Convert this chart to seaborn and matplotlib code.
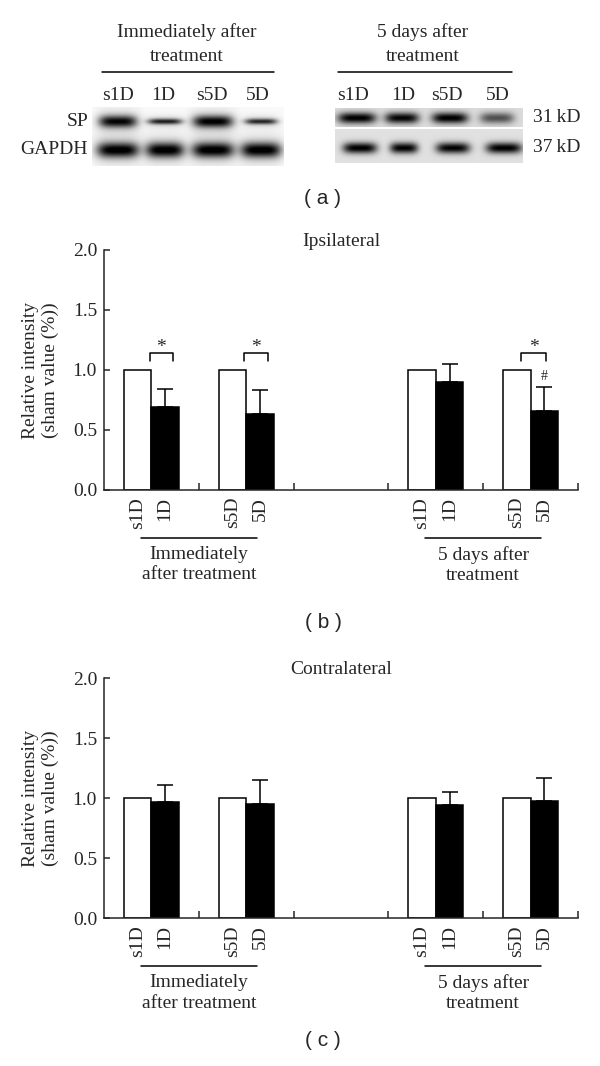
import numpy as np
import pandas as pd
import matplotlib
matplotlib.use('Agg')
import matplotlib.pyplot as plt
import matplotlib.transforms as mtransforms
import seaborn as sns

# ---------------- data ----------------
slots = ['imm_1D', 'imm_5D', 'gap', 'd5_1D', 'd5_5D']
bar_slots = ['imm_1D', 'imm_5D', 'd5_1D', 'd5_5D']
sham_labels = ['s1D', 's5D', 's1D', 's5D']
treat_labels = ['1D', '5D', '1D', '5D']
group_names = ['Immediately\nafter treatment', '5 days after\ntreatment']
yticks = [0.0, 0.5, 1.0, 1.5, 2.0]

ipsi_sham = [1.0, 1.0, 1.0, 1.0]
ipsi_treat = [0.69, 0.63, 0.90, 0.66]
ipsi_treat_sd = [0.15, 0.20, 0.15, 0.20]
ipsi_star_slots = ['imm_1D', 'imm_5D', 'd5_5D']
ipsi_hash_slots = ['d5_5D']

contra_sham = [1.0, 1.0, 1.0, 1.0]
contra_treat = [0.97, 0.95, 0.945, 0.98]
contra_treat_sd = [0.14, 0.20, 0.11, 0.19]

# western blot band densities (0 = blank, 1 = black)
blot_lanes = ['s1D', '1D', 's5D', '5D']
imm_sp_density = [0.85, 0.75, 0.88, 0.72]
imm_sp_thickness = [6.0, 2.8, 6.0, 2.8]
imm_gapdh_density = [0.92, 0.92, 0.92, 0.92]
d5_sp_density = [0.88, 0.85, 0.88, 0.55]
d5_gapdh_density = [0.9, 0.88, 0.88, 0.9]

# ---------------- style ----------------
sns.set_style('ticks')
plt.rcParams['font.family'] = ['Liberation Serif', 'DejaVu Serif']
plt.rcParams['axes.linewidth'] = 1.1
plt.rcParams['mathtext.default'] = 'regular'

W, H = 600, 1066
fig = plt.figure(figsize=(W / 100, H / 100), dpi=100)
FS = 14


def fig_rect(x0, y0, x1, y1):
    return [x0 / W, 1 - y1 / H, (x1 - x0) / W, (y1 - y0) / H]


# ---------------- panel (a): blots ----------------
ax_a = fig.add_axes([0, 1 - 210 / H, 1, 210 / H])


def blot_image(ax, x0, x1, y0, y1, bg, bands, halo=0.0):
    xs = np.arange(x0, x1, 0.5) + 0.25
    ys = np.arange(y0, y1, 0.5) + 0.25
    X, Y = np.meshgrid(xs, ys)
    img = np.full(X.shape, bg, dtype=float)
    for (xc, yc, hw, hh, d) in bands:
        px = np.exp(-np.abs((X - xc) / hw) ** 4)
        py = np.exp(-((Y - yc) / hh) ** 2)
        img += d * px * py
        if halo:
            img += halo * np.exp(-np.abs((X - xc) / (hw * 1.15)) ** 4) * np.exp(-((Y - yc) / (hh * 2.3)) ** 2)
    img = np.clip(img, 0, 1)
    ax.imshow(img, cmap='gray_r', vmin=0, vmax=1, extent=(x0, x1, y1, y0),
              interpolation='bilinear', aspect='auto')


left_centers = [118, 165, 213, 261]
left_sp_hw = [19, 17, 20, 16]
left_g_hw = [21, 19, 21, 20]
bands_left = []
for i in range(4):
    bands_left.append((left_centers[i], 121.5, left_sp_hw[i], imm_sp_thickness[i], imm_sp_density[i]))
    bands_left.append((left_centers[i], 150, left_g_hw[i], 7.5, imm_gapdh_density[i]))
blot_image(ax_a, 92, 284, 107, 166, 0.02, bands_left, halo=0.12)

r_sp_c = [357, 402, 450, 497]
r_g_c = [360, 404, 453, 504]
r_sp_hw = [19, 17, 18, 17]
r_g_hw = [17, 14, 17, 18]
blot_image(ax_a, 335, 523, 108, 127, 0.14,
           [(r_sp_c[i], 118, r_sp_hw[i], 5.5, d5_sp_density[i]) for i in range(4)])
blot_image(ax_a, 335, 523, 129, 163, 0.12,
           [(r_g_c[i], 148, r_g_hw[i], 5.5, d5_gapdh_density[i]) for i in range(4)])

BFS = 14
ax_a.text(187, 44, 'Immediately after\ntreatment', ha='center', va='center', fontsize=BFS, linespacing=1.5)
ax_a.text(423, 44, '5 days after\ntreatment', ha='center', va='center', fontsize=BFS, linespacing=1.5)
ax_a.plot([102, 274], [72, 72], color='black', lw=1.1)
ax_a.plot([338, 512], [72, 72], color='black', lw=1.1)
for x, lab in zip([118, 163, 212, 258], blot_lanes):
    ax_a.text(x, 95, lab, ha='center', va='center', fontsize=BFS)
for x, lab in zip([353, 403, 447, 498], blot_lanes):
    ax_a.text(x, 95, lab, ha='center', va='center', fontsize=BFS)
ax_a.text(88, 122, 'SP', ha='right', va='center', fontsize=BFS)
ax_a.text(88, 150, 'GAPDH', ha='right', va='center', fontsize=BFS)
ax_a.text(533, 118, '31\u2009kD', ha='left', va='center', fontsize=BFS)
ax_a.text(533, 148, '37\u2009kD', ha='left', va='center', fontsize=BFS)
ax_a.set_xlim(0, 600)
ax_a.set_ylim(210, 0)
ax_a.axis('off')


# ---------------- panels (b), (c) ----------------
def draw_panel(ax, sham, treat, sd, title, stars=(), hashes=()):
    df = pd.DataFrame({
        'slot': bar_slots * 2,
        'group': ['sham'] * 4 + ['treated'] * 4,
        'value': list(sham) + list(treat),
    })
    sns.barplot(data=df, x='slot', y='value', hue='group', order=slots,
                hue_order=['sham', 'treated'],
                palette={'sham': 'white', 'treated': 'black'},
                edgecolor='black', linewidth=1.1, width=0.58, saturation=1,
                errorbar=None, legend=False, ax=ax)
    patches = sorted(ax.patches, key=lambda p: p.get_x())
    centers = [p.get_x() + p.get_width() / 2 for p in patches]
    treated = [p for p in patches if np.allclose(p.get_facecolor()[:3], 0)]
    tx = [p.get_x() + p.get_width() / 2 for p in treated]
    th = [p.get_height() for p in treated]
    ax.errorbar(tx, th, yerr=[np.zeros(len(sd)), sd], fmt='none', ecolor='black',
                elinewidth=1.1, capsize=5.5, capthick=1.1, zorder=1)

    ax.set_xlim(-0.5, 4.5)
    ax.set_ylim(0, 2.0)
    ax.set_yticks(yticks)
    ax.set_yticklabels([f'{v:.1f}' for v in yticks], fontsize=FS)
    ax.tick_params(axis='y', direction='in', length=4, width=1.1, pad=5)
    ax.set_xticks([0.5, 1.5, 2.5, 3.5, 4.5])
    ax.set_xticklabels([])
    ax.tick_params(axis='x', which='major', direction='in', length=5, width=1.1)
    labels = []
    for s, t in zip(sham_labels, treat_labels):
        labels += [s, t]
    ax.set_xticks(centers, minor=True)
    ax.set_xticklabels(labels, minor=True, rotation=90, va='top', fontsize=FS)
    ax.tick_params(axis='x', which='minor', length=0, pad=5)
    ax.set_xlabel('')
    ax.set_ylabel('Relative intensity\n(sham value (%))', fontsize=FS, linespacing=1.2)
    ax.yaxis.set_label_coords(-0.094, 0.5)
    ax.set_title(title, fontsize=FS, pad=1)
    sns.despine(ax=ax)

    # group annotation below axis
    tline = mtransforms.offset_copy(ax.get_xaxis_transform(), fig=fig, x=0, y=-47.7, units='dots')
    ttext = mtransforms.offset_copy(ax.get_xaxis_transform(), fig=fig, x=0, y=-56, units='dots')
    for gc, name in zip([0.5, 3.5], group_names):
        ax.plot([gc - 0.61, gc + 0.61], [0, 0], color='black', lw=1.1,
                transform=tline, clip_on=False)
        ax.text(gc, 0, name, ha='center', va='top', fontsize=FS, linespacing=1.25,
                transform=ttext)

    # significance marks
    offs = {0: (-0.02, 0.23), 1: (-0.02, 0.23), 4: (-0.10, 0.16)}
    for s in stars:
        k = slots.index(s)
        x0, x1 = k + offs[k][0], k + offs[k][1]
        ax.plot([x0, x0, x1, x1], [1.077, 1.144, 1.144, 1.077], color='black', lw=1.1)
        ax.text((x0 + x1) / 2, 1.19, '*', ha='center', va='center', fontsize=FS)
    for s in hashes:
        j = bar_slots.index(s)
        ax.text(tx[j], th[j] + sd[j] + 0.09, '#', ha='center', va='center', fontsize=10)


ax_b = fig.add_axes(fig_rect(104, 250, 578, 490))
draw_panel(ax_b, ipsi_sham, ipsi_treat, ipsi_treat_sd, 'Ipsilateral',
           stars=ipsi_star_slots, hashes=ipsi_hash_slots)
ax_c = fig.add_axes(fig_rect(104, 678.3, 578, 918.3))
draw_panel(ax_c, contra_sham, contra_treat, contra_treat_sd, 'Contralateral')

# panel letters
for y, lab in [(198, '( a )'), (622, '( b )'), (1040, '( c )')]:
    fig.text(323 / W, 1 - y / H, lab, ha='center', va='center', fontsize=15,
             family=['Liberation Sans', 'DejaVu Sans'])

fig.savefig('out.png', dpi=100)
